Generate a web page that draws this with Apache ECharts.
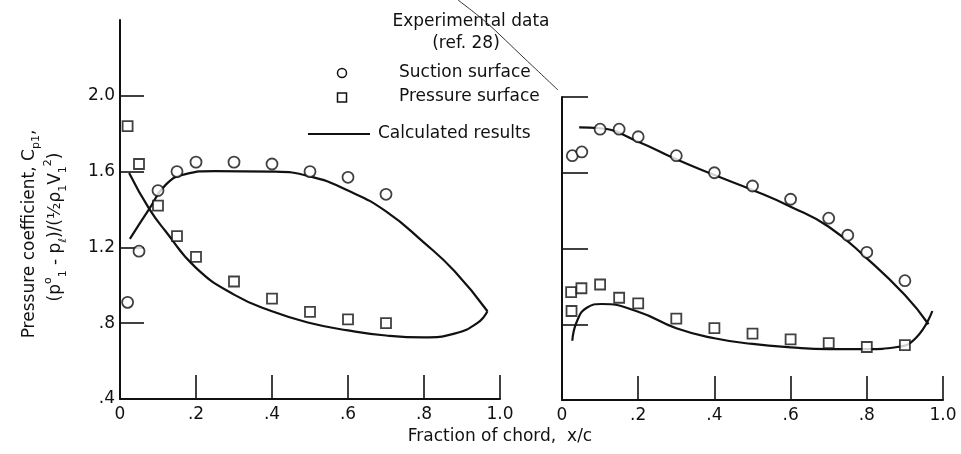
<!DOCTYPE html>
<html><head><meta charset="utf-8">
<script src="https://cdn.jsdelivr.net/npm/echarts@6/dist/echarts.min.js"></script>
<style>html,body{margin:0;padding:0;background:#fff}#c{width:961px;height:454px}</style>
</head><body><div id="c"></div><script>
// ---- data (x/c, Cp) ----
const xTickValues = [0, 0.2, 0.4, 0.6, 0.8, 1.0];
const yLabelValues = [0.4, 0.8, 1.2, 1.6, 2.0];
const yTickValues = [0.8, 1.2, 1.6, 2.0];

const leftSuctionExp = [[0.02,0.91],[0.05,1.18],[0.10,1.50],[0.15,1.60],[0.20,1.65],[0.30,1.65],[0.40,1.64],[0.50,1.60],[0.60,1.57],[0.70,1.48]];
const leftPressureExp = [[0.02,1.84],[0.05,1.64],[0.10,1.42],[0.15,1.26],[0.20,1.15],[0.30,1.02],[0.40,0.93],[0.50,0.86],[0.60,0.82],[0.70,0.80]];
const leftSuctionCalc = [[0.026,1.245],[0.077,1.403],[0.12,1.53],[0.17,1.585],[0.25,1.603],[0.40,1.60],[0.50,1.575],[0.60,1.50],[0.70,1.39],[0.80,1.225],[0.88,1.075],[0.967,0.863]];
const leftPressureCalc = [[0.024,1.593],[0.077,1.403],[0.12,1.285],[0.20,1.092],[0.30,0.951],[0.40,0.863],[0.50,0.801],[0.60,0.762],[0.70,0.735],[0.80,0.725],[0.88,0.745],[0.94,0.80],[0.967,0.863]];

const rightSuctionExp = [[0.027,1.69],[0.052,1.71],[0.10,1.83],[0.15,1.83],[0.20,1.79],[0.30,1.69],[0.40,1.60],[0.50,1.53],[0.60,1.46],[0.70,1.36],[0.75,1.27],[0.80,1.18],[0.90,1.03]];
const rightPressureExp = [[0.024,0.97],[0.051,0.99],[0.025,0.87],[0.10,1.01],[0.15,0.94],[0.20,0.91],[0.30,0.83],[0.40,0.78],[0.50,0.75],[0.60,0.72],[0.70,0.70],[0.80,0.68],[0.90,0.69]];
const rightSuctionCalc = [[0.045,1.84],[0.10,1.835],[0.20,1.764],[0.30,1.671],[0.40,1.588],[0.50,1.509],[0.60,1.421],[0.70,1.315],[0.80,1.148],[0.90,0.954],[0.962,0.80]];
const rightPressureCalc = [[0.027,0.713],[0.04,0.82],[0.065,0.887],[0.104,0.907],[0.20,0.866],[0.30,0.779],[0.40,0.726],[0.50,0.696],[0.60,0.678],[0.70,0.669],[0.80,0.669],[0.88,0.68],[0.93,0.73],[0.972,0.87]];

const FONT = 'DejaVu Sans';
const INK = '#111';

function fmt(v) {
  if (Math.abs(v) < 1e-9) return '0';
  if (Math.abs(v - 1) < 1e-9) return '1.0';
  if (v >= 1) return v.toFixed(1);
  return '.' + Math.round(v * 10);
}

function xAxisCfg(grid) {
  return {
    type: 'value', gridIndex: grid, min: 0, max: 1, interval: 0.2,
    axisLine: { show: true, lineStyle: { color: INK, width: 2 } },
    axisTick: { show: true, inside: true, length: 24, lineStyle: { color: INK, width: 1.6 } },
    axisLabel: { color: INK, fontFamily: FONT, fontSize: 17, margin: 7, formatter: fmt, customValues: xTickValues },
    splitLine: { show: false }
  };
}
function yAxisCfg(grid, max, labels, len) {
  return {
    type: 'value', gridIndex: grid, min: 0.4, max: max, interval: 0.4,
    axisLine: { show: true, lineStyle: { color: INK, width: 2 } },
    axisTick: { show: true, inside: true, length: len, lineStyle: { color: INK, width: 1.6 }, customValues: yTickValues },
    axisLabel: { show: labels, color: INK, fontFamily: FONT, fontSize: 17, margin: 5, formatter: fmt, customValues: yLabelValues },
    splitLine: { show: false }
  };
}

const markerStyle = { color: '#fff', borderColor: INK, borderWidth: 1.8 };
function scatter(name, data, idx, sym) {
  return { name: name, type: 'scatter', xAxisIndex: idx, yAxisIndex: idx, data: data,
    symbol: sym, symbolSize: sym === 'rect' ? 10 : 11, itemStyle: markerStyle, z: 5, silent: true };
}
function curve(data, idx) {
  return { name: 'Calculated results', type: 'line', xAxisIndex: idx, yAxisIndex: idx, data: data,
    smooth: 0.5, showSymbol: false, symbol: 'none',
    lineStyle: { color: INK, width: 2.2 }, z: 3, silent: true };
}

const chart = echarts.init(document.getElementById('c'), null, { renderer: 'canvas' });
chart.setOption({
  backgroundColor: '#fff',
  animation: false,
  grid: [
    { left: 120, top: 20, width: 380, height: 379 },
    { left: 562, top: 97, width: 381, height: 303 }
  ],
  xAxis: [xAxisCfg(0), xAxisCfg(1)],
  yAxis: [yAxisCfg(0, 2.4, true, 24), yAxisCfg(1, 2.0, false, 26)],
  series: [
    curve(leftSuctionCalc, 0), curve(leftPressureCalc, 0),
    curve(rightSuctionCalc, 1), curve(rightPressureCalc, 1),
    scatter('Suction surface', leftSuctionExp, 0, 'circle'),
    scatter('Pressure surface', leftPressureExp, 0, 'rect'),
    scatter('Suction surface', rightSuctionExp, 1, 'circle'),
    scatter('Pressure surface', rightPressureExp, 1, 'rect')
  ],
  graphic: [
    // y-axis title
    { type: 'text', x: 30, y: 234, rotation: Math.PI / 2,
      style: { text: 'Pressure coefficient, C{sb|p1},', fill: INK, font: '17px ' + FONT, align: 'center', verticalAlign: 'middle',
        lineHeight: 24,
        rich: { sb: { fontSize: 11, fontFamily: FONT, verticalAlign: 'bottom', lineHeight: 13, fill: INK } } } },
    { type: 'text', x: 56, y: 227, rotation: Math.PI / 2,
      style: { text: '(p{sp|o}{sb|1} - p{sb|ℓ})/(½ρ{sb|1}V{sb|1}{sp|2})', fill: INK, font: '17px ' + FONT, align: 'center', verticalAlign: 'middle',
        lineHeight: 26,
        rich: { sb: { fontSize: 11, fontFamily: FONT, verticalAlign: 'bottom', lineHeight: 13, fill: INK },
                sp: { fontSize: 11, fontFamily: FONT, verticalAlign: 'top', lineHeight: 13, fill: INK } } } },
    // x-axis title
    { type: 'text', x: 500, y: 437,
      style: { text: 'Fraction of chord,  x/c', fill: INK, font: '17px ' + FONT, align: 'center', verticalAlign: 'middle' } },
    // legend
    { type: 'text', x: 471, y: 22, style: { text: 'Experimental data', fill: INK, font: '17px ' + FONT, align: 'center', verticalAlign: 'middle' } },
    { type: 'text', x: 466, y: 44, style: { text: '(ref. 28)', fill: INK, font: '17px ' + FONT, align: 'center', verticalAlign: 'middle' } },
    { type: 'circle', shape: { cx: 342, cy: 73, r: 4.5 }, style: { fill: '#fff', stroke: INK, lineWidth: 1.5 } },
    { type: 'text', x: 399, y: 73, style: { text: 'Suction surface', fill: INK, font: '17px ' + FONT, align: 'left', verticalAlign: 'middle' } },
    { type: 'rect', shape: { x: 337.5, y: 93, width: 9, height: 9 }, style: { fill: '#fff', stroke: INK, lineWidth: 1.5 } },
    { type: 'text', x: 399, y: 97, style: { text: 'Pressure surface', fill: INK, font: '17px ' + FONT, align: 'left', verticalAlign: 'middle' } },
    { type: 'line', shape: { x1: 308, y1: 134, x2: 370, y2: 134 }, style: { stroke: INK, lineWidth: 2 } },
    { type: 'text', x: 378, y: 134, style: { text: 'Calculated results', fill: INK, font: '17px ' + FONT, align: 'left', verticalAlign: 'middle' } },
    // leader line
    { type: 'polyline', shape: { points: [[458, 0], [487, 23], [523, 57], [558, 90]], smooth: 0.3 }, style: { stroke: '#333', lineWidth: 1, fill: null } }
  ]
});
</script></body></html>
